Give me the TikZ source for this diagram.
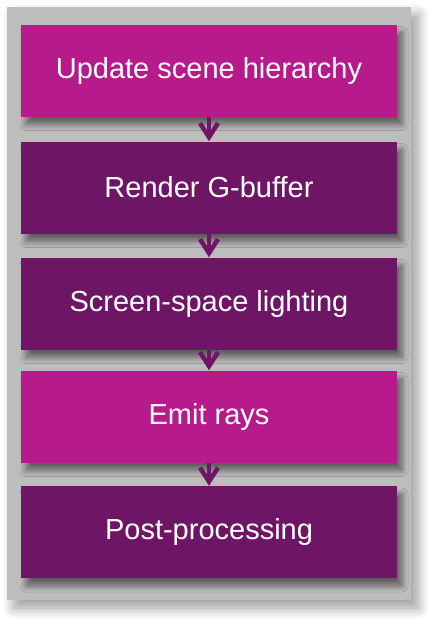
\documentclass[tikz,border=0pt]{standalone}
\usepackage{fontspec}
\setmainfont{Liberation Sans}
\usetikzlibrary{arrows.meta,shadows.blur}
\definecolor{stagemagenta}{HTML}{B71A8B}
\definecolor{stagepurple}{HTML}{6E1566}
\definecolor{panelgray}{HTML}{BDBDBD}
\tikzset{
  panel/.style={fill=panelgray, minimum width=404pt, minimum height=593pt, inner sep=0pt,
    blur shadow={shadow xshift=7pt, shadow yshift=-8pt, shadow blur radius=11pt, shadow blur steps=10, shadow opacity=40}},
  stage/.style={minimum width=376pt, minimum height=92pt, inner sep=0pt, text=white,
    font=\fontsize{29}{34}\selectfont,
    blur shadow={shadow xshift=5pt, shadow yshift=-8pt, shadow blur radius=6pt, shadow blur steps=10, shadow blur extra rounding=0pt, shadow opacity=50}},
  flow/.style={draw=stagepurple, line width=4.5pt, -{Straight Barb[length=14pt,width=18pt]}}
}
\begin{document}
\begin{tikzpicture}[x=1pt,y=-1pt]
    \useasboundingbox (0,0) rectangle (438,627);
    \node[panel] (panel) at (209,303.5) {};
    % pipeline stages
    \node[stage, fill=stagemagenta] (update) at (209,70.5) {Update scene hierarchy};
    \node[stage, fill=stagepurple] (gbuffer) at (209,187.5) {Render G-buffer};
    \node[stage, fill=stagepurple] (lighting) at (209,303.5) {Screen-space lighting};
    \node[stage, fill=stagemagenta] (rays) at (209,416.5) {Emit rays};
    \node[stage, fill=stagepurple] (post) at (209,532) {Post-processing};
    % arrows
    \draw[flow] (update) -- (gbuffer);
    \draw[flow] (gbuffer) -- (lighting);
    \draw[flow] (lighting) -- (rays);
    \draw[flow] (rays) -- (post);
\end{tikzpicture}
\end{document}
